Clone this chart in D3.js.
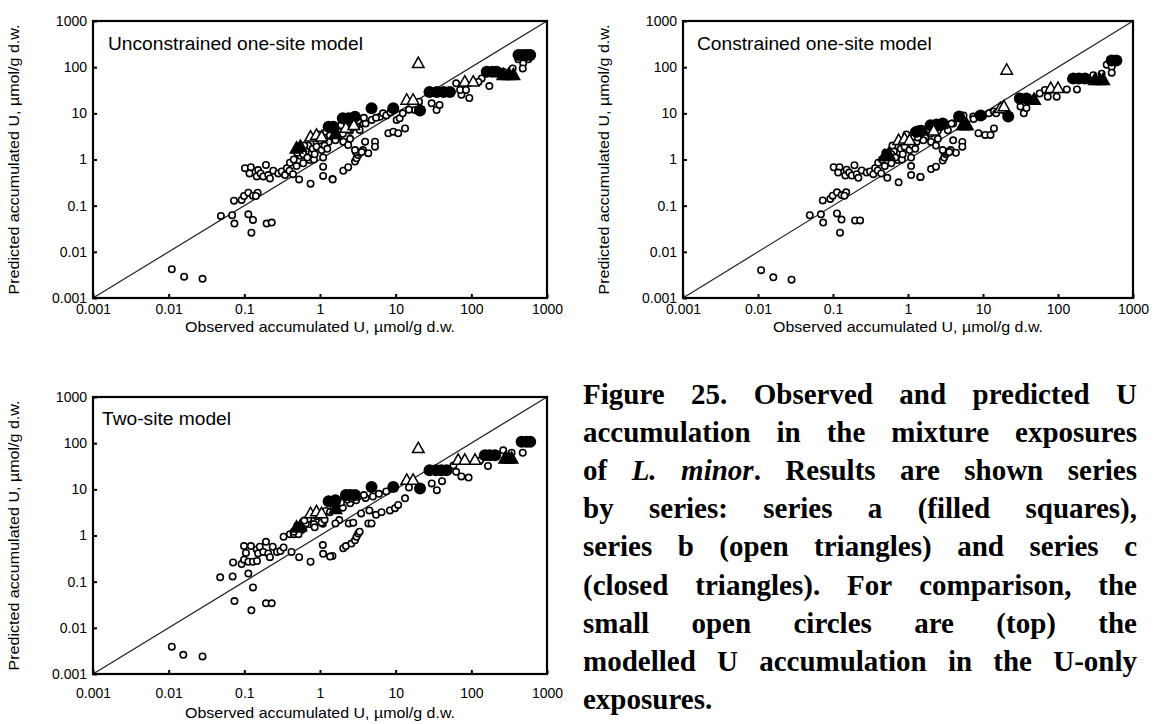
<!DOCTYPE html>
<html><head><meta charset="utf-8">
<script src="https://cdn.jsdelivr.net/npm/d3@7"></script>
<style>body{margin:0;background:#fff}svg{display:block}</style>
</head><body>
<svg id="c" width="1154" height="724"></svg>
<script>
const tickValues = [0.001,0.01,0.1,1,10,100,1000];
const tickLabels = ["0.001","0.01","0.1","1","10","100","1000"];
const panelTitles = ["Unconstrained one-site model","Constrained one-site model","Two-site model"];
const xTitles = ["Observed accumulated  U,  µmol/g d.w.","Observed accumulated  U,  µmol/g d.w.","Observed accumulated U, µmol/g d.w."];
const yTitle = "Predicted accumulated U, µmol/g d.w.";

// [observed, predicted]
const p1Open = [[0.011,0.0042],[0.016,0.0029],[0.028,0.0026],
[0.049,0.060],[0.069,0.062],[0.074,0.041],[0.073,0.128],[0.092,0.133],[0.099,0.162],[0.113,0.191],[0.13,0.165],[0.150,0.191],[0.142,0.162],[0.113,0.065],[0.13,0.049],[0.124,0.026],[0.197,0.041],[0.23,0.043],
[0.102,0.65],[0.122,0.68],[0.117,0.50],[0.146,0.43],[0.152,0.59],[0.164,0.50],[0.178,0.43],[0.193,0.76],[0.207,0.46],[0.218,0.39],[0.241,0.57],[0.281,0.50],[0.312,0.55],[0.345,0.46],[0.364,0.65],[0.40,0.85],[0.395,0.57],[0.44,0.48],[0.49,0.72],[0.60,0.83],[0.73,0.975],[0.83,1.0],[1.1,1.11],[1.1,0.70],[1.1,0.44],[1.46,0.38],[0.75,0.30],[0.53,0.37],
[1.47,0.37],[2.03,0.57],[2.36,0.68],[2.9,0.9],[3.04,1.06],[3.2,1.25],[3.34,1.4],[2.98,1.45],[4.35,1.37],[3.7,1.6],
[1.58,3.39],[2.03,2.43],[2.36,2.06],[2.9,1.6],[3.56,1.45],[3.95,2.43],[5.33,2.43],[5.33,1.9],[3.7,6.1],[3.34,4.35],[4.82,7.2],[6.2,8.4],[6.8,10],[8.0,3.7],[9.3,4.0],[10.8,3.7],[13.3,4.7],[10.3,7.2],[11.3,7.8],[12.4,10],[18,11.8],[19.8,11.8],[20.4,17.9],[29.9,16.5],[34.7,11.8],[38,15.2],[55,29.4],[63,44.7],[74,25.2],[94,21.5],[71,32],[85,32],[137,57],[173,39],[124,48],[264,80],[352,94],[417,148],[485,121],[478,94],[566,148],
[0.55,1.2],[0.65,1.5],[0.7,2.0],[0.8,1.7],[0.9,2.3],[1.0,2.6],[1.2,3.0],[1.3,2.4],[1.5,3.4],[1.7,3.0],[1.8,4.0],[2.0,3.6],[2.2,4.5],[2.5,4.2],[2.7,5.0],[3.0,5.5],[4.0,6.0],[1.2,4.0],[1.4,4.5],[0.95,3.5],[2.5,2.8],[1.6,2.6],
[0.6,1.3],[0.62,2.0],[0.68,1.1],[0.85,1.3],[0.9,1.9],[1.05,1.6],[1.15,2.0],[1.25,1.7],[1.35,3.3],[1.6,4.5],[1.9,5.5],[2.3,6.0],[2.6,6.5],[3.2,7.0],[3.8,8.0],[5.5,8.0],[7.5,9.0],[8.5,10.5],[15,12],[0.45,1.0],[0.5,1.4]];
const p1SeriesA = [[1.3,5.1],[1.5,5.1],[2.0,7.8],[2.4,7.8],[2.9,8.4],[4.8,12.9],[9.3,12.9],[21,11.5],[28,29],[35,29],[43,29],[52,29],[160,80],[190,80],[216,80],[420,183],[480,183],[540,183],[600,183]];
const p1SeriesB = [[19.9,121],[82,48],[106,48],[14,19.5],[17,19.5],[0.75,3.1],[0.9,3.4],[1.05,3.1],[2.2,4.8],[2.8,5.5]];
const p1SeriesC = [[0.49,1.75],[0.55,1.9],[265,68],[310,68],[360,68],[1.6,3.6]];

const p2Open = [[0.011,0.0040],[0.016,0.0028],[0.028,0.0025],
[0.049,0.062],[0.069,0.065],[0.074,0.043],[0.073,0.130],[0.092,0.140],[0.099,0.165],[0.113,0.195],[0.13,0.170],[0.150,0.195],[0.142,0.165],[0.113,0.068],[0.13,0.050],[0.124,0.026],[0.197,0.048],[0.23,0.048],
[0.102,0.68],[0.122,0.68],[0.117,0.52],[0.146,0.45],[0.152,0.60],[0.164,0.52],[0.178,0.45],[0.193,0.75],[0.207,0.48],[0.218,0.40],[0.241,0.58],[0.281,0.52],[0.312,0.55],[0.345,0.48],[0.364,0.65],[0.40,0.85],[0.395,0.58],[0.44,0.50],[0.49,0.72],[0.60,0.83],[0.73,0.97],[0.83,1.0],[1.1,1.1],[1.1,0.72],[1.1,0.46],[1.46,0.42],[0.75,0.32],[0.53,0.40],
[1.47,0.42],[2.03,0.62],[2.36,0.70],[2.9,0.95],[3.04,1.1],[3.2,1.3],[3.34,1.4],[2.98,1.5],[4.35,1.4],[3.7,1.6],
[1.58,3.2],[2.03,2.4],[2.36,2.0],[2.9,1.6],[3.56,1.45],[4.0,2.6],[5.3,2.4],[5.3,1.9],[3.4,4.3],[8.7,3.7],[10.7,3.4],[12.6,3.4],[14,4.7],[7.4,8.5],[8.5,8.8],[10,8.8],[5.5,9],[12,10],[14,11],[18,12],[20,11],[31.6,14],[35,10],[38,13],[67,32],[78,32],[131,33],[179,33],[96,23],[73,23],[57,27],[296,67],[382,72],[446,113],[494,143],[606,131],[520,102],[520,76],[150,55],
[0.55,1.2],[0.65,1.5],[0.7,2.0],[0.8,1.7],[0.9,2.3],[1.0,2.6],[1.2,3.0],[1.3,2.4],[1.5,3.4],[1.7,3.0],[1.8,4.0],[2.0,3.6],[2.2,4.5],[2.5,4.2],[2.7,5.0],[3.0,5.5],[4.0,6.0],[1.2,4.0],[1.4,4.5],[0.95,3.5],[2.5,2.8],[1.6,2.6],
[0.6,1.3],[0.62,2.0],[0.68,1.1],[0.85,1.3],[0.9,1.9],[1.05,1.6],[1.15,2.0],[1.25,1.7],[1.35,3.0],[1.6,4.0],[1.9,4.5],[2.3,5.0],[2.6,5.2],[3.2,5.5],[3.8,6.0],[5.5,6.5],[7.5,7.5],[15,10],[0.45,1.0],[0.5,1.4]];
const p2SeriesA = [[1.3,4.0],[1.5,4.2],[2.0,5.5],[2.4,5.7],[2.9,6.0],[4.8,8.5],[9.3,9.0],[21.7,8.5],[31,21],[38,21],[160,57],[190,57],[229,57],[520,140],[600,140]];
const p2SeriesB = [[20.7,87],[17,12.8],[19,14],[0.75,2.6],[0.9,2.8],[1.05,2.6],[2.2,4.2],[80,35],[100,35]];
const p2SeriesC = [[0.49,1.2],[0.55,1.3],[5.4,5.6],[6.1,5.6],[48,20],[310,53],[360,53],[400,53]];

const p3Open = [[0.011,0.0039],[0.0156,0.0026],[0.028,0.0024],[0.048,0.124],[0.07,0.13],[0.074,0.038],[0.113,0.15],[0.13,0.075],[0.124,0.024],[0.193,0.034],[0.23,0.034],[0.071,0.26],[0.092,0.24],[0.099,0.30],[0.113,0.27],[0.13,0.27],[0.147,0.28],
[0.099,0.59],[0.122,0.59],[0.105,0.42],[0.146,0.50],[0.152,0.41],[0.16,0.57],[0.178,0.44],[0.193,0.73],[0.207,0.41],[0.218,0.34],[0.237,0.57],[0.27,0.44],[0.30,0.46],[0.33,0.55],[0.33,0.94],[0.40,1.07],[0.45,1.07],[0.57,1.31],[0.52,1.07],[0.73,1.77],[0.83,1.77],[1.09,1.8],[0.42,0.44],[0.53,0.34],[0.75,0.27],[1.09,0.62],[1.1,0.40],[1.46,0.36],[1.8,2.16],
[1.36,0.35],[2.03,0.53],[2.2,0.59],[2.6,0.67],[2.9,0.79],[3.04,0.94],[3.2,1.1],[3.34,1.21],[1.6,1.83],[2.4,1.83],[2.75,1.9],[4.35,1.83],[4.8,1.83],
[8.4,3.5],[9.8,3.9],[10.8,4.6],[13.3,6.4],[30,13.4],[35,9.6],[41,15],[58,33],[63,24],[74,19],[92,18],[166,32],[264,70],[340,62],[478,62],[500,107],[560,100],[130,42],
[0.55,1.5],[0.65,1.8],[0.7,2.3],[0.9,2.6],[1.0,3.0],[1.2,3.4],[1.5,3.8],[1.8,4.4],[2.0,4.0],[2.5,5.0],[3.0,5.8],[4.0,6.5],[5.0,7.0],[6.0,8.0],[3.5,3.0],[4.5,3.5],[5.5,2.8],[6.5,3.2],
[0.6,1.4],[0.62,2.1],[0.85,1.5],[1.05,1.9],[1.15,2.2],[1.35,3.2],[1.6,4.6],[1.9,5.2],[2.3,6.0],[2.6,6.3],[3.2,7.0],[3.8,7.5],[7.5,9.0],[15,11],[0.45,1.2],[0.5,1.6]];
const p3SeriesA = [[1.3,5.5],[1.6,5.8],[2.2,7.5],[2.5,7.5],[2.9,7.5],[4.8,11.3],[9.3,11.3],[21,10.4],[28,26],[34,26],[40,26],[47,26],[151,55],[175,55],[206,55],[462,107],[530,107],[600,107]];
const p3SeriesB = [[19.9,77],[14,15.8],[17,15.8],[67,43],[82,43],[112,43],[0.75,3.0],[0.9,3.3],[1.05,3.0]];
const p3SeriesC = [[0.49,1.5],[0.55,1.6],[280,47],[310,47],[340,47],[1.6,3.8]];

const captionLines = [
 [["Figure"],["25."],["Observed"],["and"],["predicted"],["U"]],
 [["accumulation"],["in"],["the"],["mixture"],["exposures"]],
 [["of"],["L.",1],["minor",1,"."],["Results"],["are"],["shown"],["series"]],
 [["by"],["series:"],["series"],["a"],["(filled"],["squares),"]],
 [["series"],["b"],["(open"],["triangles)"],["and"],["series"],["c"]],
 [["(closed"],["triangles)."],["For"],["comparison,"],["the"]],
 [["small"],["open"],["circles"],["are"],["(top)"],["the"]],
 [["modelled"],["U"],["accumulation"],["in"],["the"],["U-only"]],
 [["exposures."]]
];

const svg = d3.select("#c");
const sans = "'Liberation Sans', Arial, sans-serif";

const panels = [
 {x:[93,547], y:[298,21], title:panelTitles[0], xt:xTitles[0], open:p1Open, a:p1SeriesA, b:p1SeriesB, c:p1SeriesC, tx:108, ty:50, xlab:314, xtit:332, ytx:14},
 {x:[683,1133], y:[298,21], title:panelTitles[1], xt:xTitles[1], open:p2Open, a:p2SeriesA, b:p2SeriesB, c:p2SeriesC, tx:697, ty:50, xlab:314, xtit:332, ytx:604},
 {x:[93,547], y:[674,397], title:panelTitles[2], xt:xTitles[2], open:p3Open, a:p3SeriesA, b:p3SeriesB, c:p3SeriesC, tx:102, ty:425, xlab:698, xtit:718, ytx:14}
];

panels.forEach(p => {
  const xs = d3.scaleLog().domain([0.001,1000]).range(p.x);
  const ys = d3.scaleLog().domain([0.001,1000]).range(p.y);
  const g = svg.append("g");
  g.append("line").attr("x1",xs(0.001)).attr("y1",ys(0.001)).attr("x2",xs(1000)).attr("y2",ys(1000))
    .attr("stroke","#222").attr("stroke-width",1.2);
  const xa = d3.axisBottom(xs).tickValues(tickValues).tickFormat((d,i)=>tickLabels[i]).tickSize(-4).tickPadding(10);
  const ya = d3.axisLeft(ys).tickValues(tickValues).tickFormat((d,i)=>tickLabels[i]).tickSize(-4).tickPadding(10);
  const gx = g.append("g").attr("transform",`translate(0,${p.y[0]})`).call(xa);
  const gy = g.append("g").attr("transform",`translate(${p.x[0]},0)`).call(ya);
  [gx,gy].forEach(a=>{
    a.select(".domain").remove();
    a.selectAll(".tick line").attr("stroke","#000").attr("stroke-width",2);
    a.selectAll(".tick text").attr("font-family",sans).attr("font-size",14).attr("fill","#000");
  });
  gx.selectAll(".tick text").attr("dy",null).attr("y",p.xlab - p.y[0]);
  gy.selectAll(".tick text").attr("x",-6);
  const pts = g.append("g");
  pts.selectAll("circle.o").data(p.open).join("circle").attr("class","o")
    .attr("cx",d=>xs(d[0])).attr("cy",d=>ys(d[1])).attr("r",3.2)
    .attr("fill","#fff").attr("stroke","#000").attr("stroke-width",1.6);
  pts.selectAll("circle.a").data(p.a).join("circle").attr("class","a")
    .attr("cx",d=>xs(d[0])).attr("cy",d=>ys(d[1])).attr("r",6).attr("fill","#000");
  const tri = (s)=>`M0,${-s*0.62}L${s*0.58},${s*0.42}L${-s*0.58},${s*0.42}Z`;
  pts.selectAll("path.b").data(p.b).join("path").attr("class","b")
    .attr("d",tri(10)).attr("transform",d=>`translate(${xs(d[0])},${ys(d[1])})`)
    .attr("fill","#fff").attr("stroke","#000").attr("stroke-width",1.5);
  pts.selectAll("path.c").data(p.c).join("path").attr("class","c")
    .attr("d",tri(13)).attr("transform",d=>`translate(${xs(d[0])},${ys(d[1])})`)
    .attr("fill","#000");
  g.append("rect").attr("x",p.x[0]).attr("y",p.y[1]).attr("width",p.x[1]-p.x[0]).attr("height",p.y[0]-p.y[1])
    .attr("fill","none").attr("stroke","#000").attr("stroke-width",2.2);
  g.append("text").attr("x",p.tx).attr("y",p.ty).attr("font-family",sans).attr("font-size",19.2).text(p.title);
  g.append("text").attr("x",(p.x[0]+p.x[1])/2).attr("y",p.xtit).attr("text-anchor","middle")
    .attr("font-family",sans).attr("font-size",14.5).attr("textLength",270).attr("lengthAdjust","spacingAndGlyphs").text(p.xt);
  const cy = (p.y[0]+p.y[1])/2;
  g.append("text").attr("transform",`translate(${p.ytx},${cy}) rotate(-90)`).attr("text-anchor","middle")
    .attr("dy","0.35em").attr("font-family",sans).attr("font-size",14.5).attr("textLength",270).attr("lengthAdjust","spacingAndGlyphs").text(yTitle);
});

const capX0 = 583, capX1 = 1137, capY0 = 404, capLH = 38.1;
const cap = svg.append("g").attr("font-family","'Liberation Serif','Times New Roman',serif").attr("font-weight","bold").attr("font-size",29);
captionLines.forEach((words,li)=>{
  const y = capY0 + li*capLH;
  const nodes = words.map(w=>{
    const t = cap.append("text").attr("y",y);
    t.append("tspan").attr("font-style",w[1]?"italic":null).text(w[0]);
    if (w[2]) t.append("tspan").text(w[2]);
    return t;
  });
  const widths = nodes.map(n=>n.node().getComputedTextLength());
  const total = d3.sum(widths);
  const last = li === captionLines.length-1;
  const gap = (!last && nodes.length>1) ? (capX1-capX0-total)/(nodes.length-1) : 7;
  let x = capX0;
  nodes.forEach((n,i)=>{ n.attr("x",x); x += widths[i]+gap; });
});
</script>
</body></html>
